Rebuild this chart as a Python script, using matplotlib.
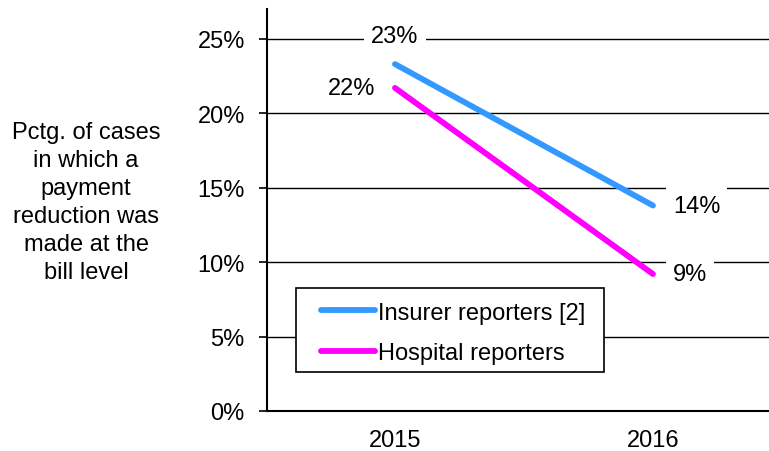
import matplotlib
matplotlib.use("Agg")
import matplotlib.pyplot as plt
from matplotlib.patches import Rectangle
from matplotlib.ticker import PercentFormatter

# ----------------------------- Data ------------------------------------------

YEARS = ["2015", "2016"]
INSURER = [0.233, 0.138]
HOSPITAL = [0.217, 0.092]
INSURER_LABELS = ["23%", "14%"]
HOSPITAL_LABELS = ["22%", "9%"]
Y_TICKS = [0.0, 0.05, 0.10, 0.15, 0.20, 0.25]

BLUE = "#3399FF"
MAGENTA = "#FF00FF"
FONT_SIZE = 17

plt.rcParams["font.family"] = ["Liberation Sans", "DejaVu Sans"]

fig = plt.figure(figsize=(7.69, 4.52), dpi=100)
ax = fig.add_axes([267 / 769, 1 - 412 / 452, 1 - 267 / 769, (412 - 10) / 452])

x = list(range(len(YEARS)))
ax.plot(x, INSURER, color=BLUE, linewidth=4.2, solid_capstyle="round",
        label="Insurer reporters [2]", zorder=3)
ax.plot(x, HOSPITAL, color=MAGENTA, linewidth=4.2, solid_capstyle="round",
        label="Hospital reporters", zorder=3)

box = dict(boxstyle="square,pad=0.3", facecolor="white", edgecolor="none")

# value labels
ax.annotate(INSURER_LABELS[0], (x[0], INSURER[0]), xytext=(0, 17), textcoords="offset pixels",
            ha="center", va="bottom", fontsize=FONT_SIZE, bbox=box, zorder=4)
ax.annotate(INSURER_LABELS[1], (x[1], INSURER[1]), xytext=(20, 0), textcoords="offset pixels",
            ha="left", va="center", fontsize=FONT_SIZE, bbox=box, zorder=4)
ax.annotate(HOSPITAL_LABELS[0], (x[0], HOSPITAL[0]), xytext=(-20, 0), textcoords="offset pixels",
            ha="right", va="center", fontsize=FONT_SIZE, bbox=box, zorder=4)
ax.annotate(HOSPITAL_LABELS[1], (x[1], HOSPITAL[1]), xytext=(20, 0), textcoords="offset pixels",
            ha="left", va="center", fontsize=FONT_SIZE, bbox=box, zorder=4)

ax.set_xlim(-0.496, -0.496 + 502 / 258)
ax.set_ylim(0, 0.27)
ax.set_xticks(x)
ax.set_xticklabels(YEARS)
ax.set_yticks(Y_TICKS)
ax.yaxis.set_major_formatter(PercentFormatter(1.0, decimals=0))

ax.grid(axis="y", color="black", linewidth=1.0)
ax.set_axisbelow(True)
for side in ["top", "right"]:
    ax.spines[side].set_visible(False)
ax.spines["left"].set_linewidth(1.5)
ax.spines["bottom"].set_linewidth(1.5)
ax.tick_params(axis="y", length=6, width=1.2, pad=10, labelsize=FONT_SIZE)
ax.tick_params(axis="x", length=0, pad=13, labelsize=FONT_SIZE)

# legend: frame drawn separately so the inner padding can match
frame = Rectangle((0.058, 0.097), 0.613, 0.209, transform=ax.transAxes,
                  facecolor="white", edgecolor="black", linewidth=1.2, zorder=5)
ax.add_patch(frame)
leg = ax.legend(loc="center left", bbox_to_anchor=(0.1076, 0.194), borderaxespad=0,
                borderpad=0, fontsize=FONT_SIZE, frameon=False,
                handlelength=2.3, handletextpad=0.12, labelspacing=0.8)
leg.set_zorder(6)

fig.text(86 / 769, 1 - 203 / 452,
         "Pctg. of cases\nin which a\npayment\nreduction was\nmade at the\nbill level",
         ha="center", va="center", multialignment="center", fontsize=FONT_SIZE,
         linespacing=1.35)

fig.savefig("out.png", dpi=100)
